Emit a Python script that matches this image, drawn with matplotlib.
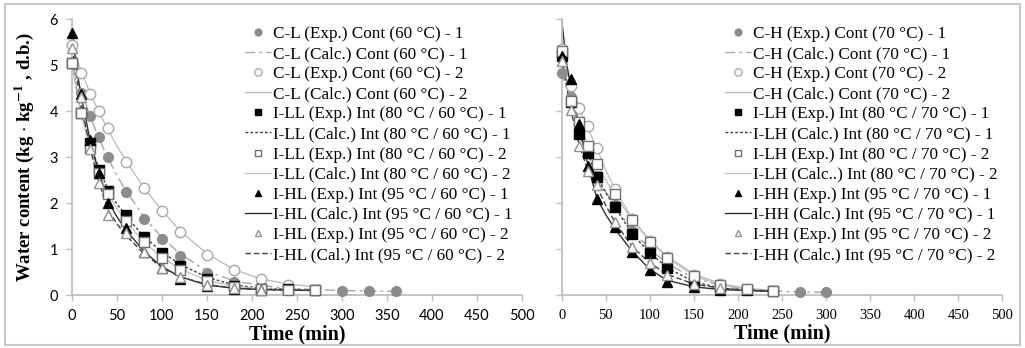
import numpy as np
import matplotlib as mpl
import matplotlib.pyplot as plt
from matplotlib.patches import Rectangle

plt.rcParams['font.family'] = ['Liberation Serif', 'DejaVu Serif']
plt.rcParams['mathtext.fontset'] = 'stix'

# ---------------- left panel (60 °C) ----------------
t_cl1 = [0, 10, 20, 30, 40, 60, 80, 100, 120, 150, 180, 210, 240, 270, 300, 330, 360]
cl_exp1 = [5.05, 4.40, 3.89, 3.43, 3.01, 2.25, 1.65, 1.22, 0.85, 0.49, 0.29, 0.20, 0.15, 0.12, 0.10, 0.09, 0.08]
tc_cl1 = [0, 10, 20, 30, 40, 50, 60, 80, 100, 120, 150, 180, 210, 240, 270, 300, 330, 360]
cl_calc1 = [5.05, 4.45, 3.90, 3.40, 2.98, 2.60, 2.27, 1.70, 1.25, 0.90, 0.52, 0.31, 0.21, 0.15, 0.12, 0.10, 0.09, 0.08]

t_cl2 = [0, 10, 20, 30, 40, 60, 80, 100, 120, 150, 180, 210, 240]
cl_exp2 = [5.43, 4.83, 4.37, 4.01, 3.64, 2.90, 2.32, 1.83, 1.37, 0.88, 0.54, 0.34, 0.22]
tc_cl2 = [0, 10, 20, 30, 40, 50, 60, 80, 100, 120, 150, 180, 210, 240, 270]
cl_calc2 = [5.43, 4.88, 4.40, 3.98, 3.60, 3.24, 2.92, 2.33, 1.84, 1.40, 0.90, 0.56, 0.35, 0.24, 0.18]

t_int = [0, 10, 20, 30, 40, 60, 80, 100, 120, 150, 180, 210, 240, 270]
ill_exp1 = [5.05, 3.95, 3.31, 2.73, 2.27, 1.74, 1.27, 0.92, 0.64, 0.36, 0.20, 0.14, 0.13, 0.11]
ill_exp2 = [5.05, 3.95, 3.20, 2.65, 2.20, 1.62, 1.16, 0.80, 0.55, 0.30, 0.18, 0.13, 0.12, 0.11]
t_hl = [0, 10, 20, 30, 40, 60, 80, 100, 120, 150, 180, 210]
ihl_exp1 = [5.70, 4.37, 3.37, 2.66, 2.01, 1.45, 0.94, 0.60, 0.36, 0.20, 0.14, 0.12]
ihl_exp2 = [5.38, 4.30, 3.17, 2.44, 1.74, 1.34, 0.93, 0.60, 0.40, 0.22, 0.15, 0.12]

tc_int = [0, 5, 10, 20, 30, 40, 50, 60, 80, 100, 120, 150, 180, 210, 240, 270]
ill_calc1 = [5.05, 4.50, 4.02, 3.30, 2.75, 2.30, 1.98, 1.72, 1.27, 0.94, 0.67, 0.39, 0.22, 0.15, 0.13, 0.11]
ill_calc2 = [5.05, 4.45, 3.95, 3.20, 2.64, 2.20, 1.88, 1.60, 1.15, 0.82, 0.57, 0.32, 0.19, 0.14, 0.12, 0.11]
ihl_calc1 = [5.70, 4.95, 4.35, 3.38, 2.65, 2.05, 1.70, 1.42, 0.95, 0.62, 0.40, 0.22, 0.15, 0.12, 0.11, 0.10]
ihl_calc2 = [5.38, 4.75, 4.20, 3.20, 2.45, 1.85, 1.55, 1.30, 0.90, 0.60, 0.40, 0.23, 0.15, 0.12, 0.11, 0.10]

# ---------------- right panel (70 °C) ----------------
t_ch1 = [0, 10, 20, 30, 40, 60, 80, 100, 120, 150, 180, 210, 240, 270, 300]
ch_exp1 = [4.82, 4.30, 3.60, 3.10, 2.60, 1.95, 1.40, 1.00, 0.68, 0.36, 0.20, 0.13, 0.09, 0.07, 0.06]
tc_ch = [0, 5, 10, 20, 30, 40, 50, 60, 80, 100, 120, 150, 180, 210, 240, 270, 300]
ch_calc1 = [4.85, 4.55, 4.25, 3.62, 3.10, 2.62, 2.25, 1.95, 1.40, 1.00, 0.68, 0.37, 0.21, 0.13, 0.09, 0.07, 0.06]

t_ch2 = [0, 10, 20, 30, 40, 60, 80, 100, 120, 150, 180, 210]
ch_exp2 = [5.34, 4.55, 4.07, 3.67, 3.19, 2.30, 1.65, 1.18, 0.83, 0.44, 0.24, 0.14]
tc_ch2 = [0, 5, 10, 20, 30, 40, 50, 60, 80, 100, 120, 150, 180, 210, 240]
ch_calc2 = [5.34, 5.00, 4.62, 4.05, 3.62, 3.18, 2.72, 2.32, 1.66, 1.19, 0.84, 0.46, 0.25, 0.15, 0.10]

t_lh = [0, 10, 20, 30, 40, 60, 80, 100, 120, 150, 180, 210, 240]
ilh_exp1 = [5.22, 4.20, 3.50, 3.09, 2.57, 1.91, 1.32, 0.91, 0.58, 0.28, 0.15, 0.11, 0.08]
ilh_exp2 = [5.30, 4.22, 3.77, 3.24, 2.85, 2.19, 1.63, 1.16, 0.80, 0.41, 0.22, 0.13, 0.09]
t_hh = [0, 10, 20, 30, 40, 60, 80, 100, 120, 150, 180]
ihh_exp1 = [5.20, 4.69, 3.72, 2.80, 2.08, 1.49, 0.94, 0.54, 0.29, 0.17, 0.12]
ihh_exp2 = [5.10, 4.02, 3.24, 2.70, 2.40, 1.59, 1.05, 0.69, 0.44, 0.24, 0.15]

tc_r = [0, 5, 10, 20, 30, 40, 50, 60, 80, 100, 120, 150, 180, 210, 240]
ilh_calc1 = [5.22, 4.70, 4.22, 3.50, 3.05, 2.58, 2.22, 1.92, 1.33, 0.92, 0.59, 0.29, 0.15, 0.11, 0.08]
ilh_calc2 = [5.30, 4.80, 4.30, 3.75, 3.24, 2.85, 2.50, 2.19, 1.63, 1.17, 0.81, 0.42, 0.22, 0.13, 0.09]
ihh_calc1 = [6.00, 5.10, 4.55, 3.65, 2.80, 2.10, 1.75, 1.45, 0.95, 0.56, 0.32, 0.18, 0.12, 0.10, 0.08]
ihh_calc2 = [5.15, 4.60, 4.05, 3.25, 2.70, 2.35, 1.95, 1.60, 1.05, 0.70, 0.45, 0.24, 0.15, 0.11, 0.09]

labels_l = ['C-L (Exp.) Cont (60 °C) - 1', 'C-L (Calc.) Cont (60 °C) - 1',
            'C-L (Exp.) Cont (60 °C) - 2', 'C-L (Calc.) Cont (60 °C) - 2',
            'I-LL (Exp.) Int (80 °C / 60 °C) - 1', 'I-LL (Calc.) Int (80 °C / 60 °C) - 1',
            'I-LL (Exp.) Int (80 °C / 60 °C) - 2', 'I-LL (Calc.) Int (80 °C / 60 °C) - 2',
            'I-HL (Exp.) Int (95 °C / 60 °C) - 1', 'I-HL (Calc.) Int (95 °C / 60 °C) - 1',
            'I-HL (Exp.) Int (95 °C / 60 °C) - 2', 'I-HL (Cal.) Int (95 °C / 60 °C) - 2']
labels_r = ['C-H (Exp.) Cont (70 °C) - 1', 'C-H (Calc.) Cont (70 °C) - 1',
            'C-H (Exp.) Cont (70 °C) - 2', 'C-H (Calc.) Cont (70 °C) - 2',
            'I-LH (Exp.) Int (80 °C / 70 °C) - 1', 'I-LH (Calc.) Int (80 °C / 70 °C) - 1',
            'I-LH (Exp.) Int (80 °C / 70 °C) - 2', 'I-LH (Calc..) Int (80 °C / 70 °C) - 2',
            'I-HH (Exp.) Int (95 °C / 70 °C) - 1', 'I-HH (Calc.) Int (95 °C / 70 °C) - 1',
            'I-HH (Exp.) Int (95 °C / 70 °C) - 2', 'I-HH (Calc.) Int (95 °C / 70 °C) - 2']

# styles: (marker, face, edge, size) for exp; (color, linestyle, lw) for calc
exp_styles = [('o', '#8c8c8c', '#8c8c8c', 7), ('o', 'white', '#a8a8a8', 7.5),
              ('s', 'black', 'black', 6.5), ('s', 'white', '#707070', 6.5),
              ('^', 'black', 'black', 6.5), ('^', 'white', '#909090', 6.5)]
calc_styles = [('#a6a6a6', (0, (7, 3, 2, 3)), 1.0), ('#b8b8b8', '-', 0.9),
               ('#404040', (0, (2, 1.5)), 1.0), ('#c0c0c0', '-', 0.9),
               ('#303030', '-', 1.0), ('#404040', (0, (4, 2)), 1.0)]


def draw(ax, exps, calcs, labels, sans_ticks, leg_x):
    handles = []
    for i in range(6):
        te, ve = exps[i]
        tc, vc = calcs[i]
        m, fc, ec, ms = exp_styles[i]
        col, ls, lw = calc_styles[i]
        lc, = ax.plot(tc, vc, color=col, linestyle=ls, lw=lw, zorder=2)
        pe, = ax.plot(te, ve, linestyle='none', marker=m, mfc=fc, mec=ec, ms=ms,
                      mew=1.0, zorder=3, clip_on=False)
        handles += [pe, lc]
    ax.set_xlim(0, 500)
    ax.set_ylim(0, 6)
    ax.set_xticks(np.arange(0, 501, 50))
    ax.set_yticks(np.arange(0, 7, 1))
    for s in ['top', 'right']:
        ax.spines[s].set_visible(False)
    for s in ['left', 'bottom']:
        ax.spines[s].set_color('#bfbfbf')
        ax.spines[s].set_linewidth(1.3)
    ax.tick_params(direction='out', length=4, color='#bfbfbf', width=1, labelsize=10.5, pad=6)
    if sans_ticks:
        for lab in ax.get_xticklabels() + ax.get_yticklabels():
            lab.set_family(['Lato', 'DejaVu Sans'])
    else:
        ax.set_yticklabels([])
    ax.set_xlabel('Time (min)', fontsize=14.5, fontweight='bold', labelpad=1)
    ax.legend(handles, labels, loc='upper left', bbox_to_anchor=(leg_x, 1.0),
              frameon=False, fontsize=12.3, handlelength=1.5, handletextpad=0.15,
              labelspacing=0.24, markerscale=0.7, borderaxespad=0)


fig = plt.figure(figsize=(10.25, 3.48), dpi=100)
ax1 = fig.add_axes([0.0702, 0.152, 0.439, 0.793])
ax2 = fig.add_axes([0.548, 0.152, 0.430, 0.793])

draw(ax1,
     [(t_cl1, cl_exp1), (t_cl2, cl_exp2), (t_int, ill_exp1), (t_int, ill_exp2),
      (t_hl, ihl_exp1), (t_hl, ihl_exp2)],
     [(tc_cl1, cl_calc1), (tc_cl2, cl_calc2), (tc_int, ill_calc1), (tc_int, ill_calc2),
      (tc_int, ihl_calc1), (tc_int, ihl_calc2)],
     labels_l, True, 0.37)
draw(ax2,
     [(t_ch1, ch_exp1), (t_ch2, ch_exp2), (t_lh, ilh_exp1), (t_lh, ilh_exp2),
      (t_hh, ihh_exp1), (t_hh, ihh_exp2)],
     [(tc_ch, ch_calc1), (tc_ch2, ch_calc2), (tc_r, ilh_calc1), (tc_r, ilh_calc2),
      (tc_r, ihh_calc1), (tc_r, ihh_calc2)],
     labels_r, False, 0.355)

ax1.set_ylabel(r'Water content (kg $\cdot$ kg$^{\mathbf{-1}}$ , d.b.)', fontsize=13.5,
               fontweight='bold', labelpad=10)

# thin grey frame around the whole picture
fig.patches.append(Rectangle((0.005, 0.008), 0.99, 0.98, transform=fig.transFigure,
                             fill=False, edgecolor='#c8c8c8', lw=1.5))

fig.savefig('out.png', dpi=100)
